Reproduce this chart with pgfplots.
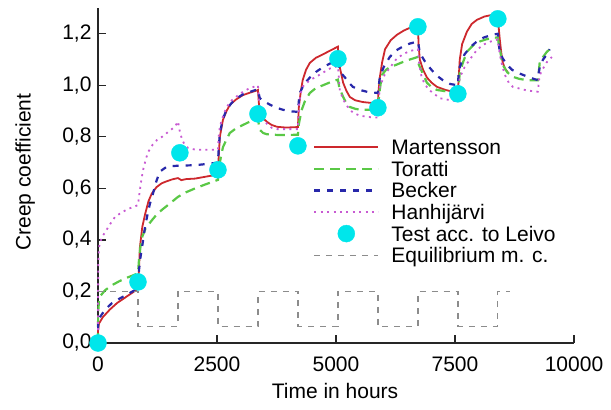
\documentclass[border=0pt]{standalone}
\usepackage{fontspec}
\setmainfont{Liberation Sans}
\usepackage{pgfplots}
\pgfplotsset{compat=1.18}

\definecolor{cmart}{RGB}{205,40,45}
\definecolor{ctor}{RGB}{90,200,70}
\definecolor{cbeck}{RGB}{40,40,170}
\definecolor{chanh}{RGB}{200,90,210}
\definecolor{ctest}{RGB}{0,230,235}
\definecolor{cequi}{RGB}{140,140,140}
\newcommand{\chartfont}{\fontsize{21bp}{25bp}\selectfont}

\begin{document}
\begin{tikzpicture}
\useasboundingbox (-98bp,-67bp) rectangle (513bp,343bp);
\begin{axis}[
  at={(0,0)}, anchor=south west,
  scale only axis, width=476bp, height=335bp,
  xmin=0, xmax=10000, ymin=0, ymax=1.3,
  axis x line=bottom, axis y line=left,
  axis line style={-, line width=1.3bp, black!85},
  tick align=inside, major tick length=8bp,
  tick style={line width=1.3bp, black!85},
  xtick={0,2500,5000,7500,10000},
  ytick={0,0.2,0.4,0.6,0.8,1.0,1.2},
  scaled x ticks=false,
  /pgf/number format/assume math mode=true,
  xticklabel style={font=\chartfont, yshift=-10bp, /pgf/number format/1000 sep={}},
  yticklabel style={font=\chartfont, xshift=-3bp, /pgf/number format/.cd, fixed, fixed zerofill, precision=1, use comma},
  xlabel={Time in hours}, ylabel={Creep coefficient},
  label style={font=\chartfont},
  xlabel style={at={(axis description cs:0.498,-0.143)}, anchor=center},
  ylabel style={at={(axis description cs:-0.153,0.51)}, anchor=center},
  clip=false,
  legend image code/.code={\draw[mark repeat=2,mark phase=2,#1] plot coordinates {(0bp,0bp) (32bp,0bp) (64bp,0bp)};},
  legend style={draw=none, fill=none, inner sep=0bp, font=\chartfont,
    at={(axis description cs:0.4517,0.6173)}, anchor=north west,
    nodes={inner sep=0bp, text height=18.3bp, text depth=3.3bp},
    row sep=0bp, column sep=12bp},
  legend cell align=left,
]
\addplot[cmart, line width=1.8bp] coordinates {
(0,0) (2,0.05) (20,0.075) (100,0.10) (250,0.13) (400,0.155) (600,0.18) (840,0.21)
(860,0.28) (880,0.37) (930,0.45) (990,0.50) (1060,0.55) (1130,0.58) (1230,0.605) (1340,0.62) (1450,0.628) (1560,0.635) (1680,0.64) (1750,0.632) (1850,0.636) (2040,0.638) (2250,0.645) (2460,0.652) (2520,0.655)
(2535,0.72) (2560,0.80) (2625,0.866) (2700,0.90) (2770,0.924) (2900,0.945) (3045,0.962) (3200,0.972) (3340,0.98) (3360,0.982)
(3380,0.93) (3400,0.897) (3470,0.872) (3550,0.858) (3650,0.846) (3760,0.839) (3950,0.836) (4200,0.838)
(4210,0.88) (4220,0.916) (4260,0.975) (4300,1.02) (4370,1.06) (4450,1.087) (4580,1.107) (4725,1.12) (4880,1.135) (5040,1.15)
(5050,1.12) (5080,1.07) (5150,1.01) (5220,0.978) (5290,0.955) (5400,0.942) (5565,0.935) (5720,0.932) (5880,0.93)
(5895,0.98) (5920,1.03) (5970,1.09) (6030,1.14) (6150,1.175) (6280,1.196) (6420,1.212) (6550,1.223) (6720,1.235)
(6735,1.16) (6760,1.10) (6830,1.06) (6910,1.03) (7010,1.01) (7120,0.994) (7300,0.982) (7460,0.975) (7560,0.97)
(7575,1.02) (7600,1.10) (7650,1.16) (7750,1.208) (7850,1.238) (7960,1.254) (8120,1.267) (8300,1.274) (8400,1.276)
(8415,1.23) (8440,1.18) (8470,1.13) (8500,1.09) (8550,1.065) (8610,1.05)
};
\addlegendentry{Martensson}
\addplot[ctor, line width=2.2bp, dash pattern=on 10bp off 6bp] coordinates {
(0,0) (3,0.12) (20,0.16) (60,0.185) (150,0.205) (300,0.225) (450,0.24) (630,0.255) (840,0.27)
(860,0.32) (890,0.37) (925,0.41) (1000,0.445) (1135,0.477) (1240,0.50) (1345,0.517) (1500,0.54) (1680,0.567) (1850,0.585) (2040,0.60) (2250,0.615) (2520,0.633)
(2540,0.68) (2580,0.72) (2625,0.76) (2700,0.79) (2770,0.815) (2900,0.833) (3045,0.846) (3200,0.86) (3360,0.873)
(3380,0.845) (3400,0.827) (3470,0.815) (3550,0.81) (3800,0.807) (4200,0.808)
(4220,0.85) (4280,0.905) (4350,0.94) (4450,0.97) (4580,0.99) (4725,1.0) (4880,1.012) (5040,1.022)
(5070,0.99) (5150,0.955) (5220,0.93) (5290,0.916) (5420,0.908) (5565,0.905) (5880,0.905)
(5910,0.97) (5965,1.04) (6050,1.06) (6130,1.07) (6270,1.08) (6400,1.09) (6550,1.10) (6720,1.11)
(6740,1.08) (6800,1.055) (6910,1.01) (7010,0.993) (7120,0.982) (7300,0.977) (7560,0.975)
(7580,1.0) (7600,1.05) (7670,1.09) (7750,1.13) (7880,1.155) (8020,1.17) (8150,1.178) (8300,1.184) (8400,1.186)
(8420,1.16) (8440,1.145) (8470,1.11) (8500,1.08) (8600,1.05) (8715,1.033) (8850,1.025) (9010,1.02) (9240,1.02)
(9260,1.05) (9280,1.09) (9350,1.11) (9430,1.13) (9555,1.15)
};
\addlegendentry{Toratti}
\addplot[cbeck, line width=2.2bp, dash pattern=on 6bp off 7bp] coordinates {
(0,0) (3,0.07) (40,0.10) (150,0.13) (295,0.155) (450,0.172) (630,0.19) (820,0.21) (840,0.215)
(860,0.28) (890,0.33) (925,0.37) (980,0.44) (1030,0.49) (1090,0.54) (1155,0.58) (1230,0.63) (1300,0.665) (1450,0.685) (1680,0.688) (2040,0.69) (2300,0.695) (2520,0.70)
(2535,0.75) (2560,0.815) (2625,0.87) (2700,0.905) (2800,0.93) (2900,0.948) (3045,0.965) (3200,0.975) (3360,0.985)
(3380,0.965) (3400,0.95) (3500,0.937) (3610,0.925) (3750,0.913) (3885,0.905) (4050,0.899) (4200,0.897)
(4220,0.94) (4240,0.97) (4330,1.005) (4450,1.03) (4580,1.052) (4725,1.07) (4880,1.085) (5040,1.095)
(5070,1.07) (5120,1.045) (5190,1.03) (5270,1.01) (5355,0.994) (5500,0.982) (5650,0.975) (5880,0.97)
(5900,1.0) (5920,1.03) (6000,1.07) (6130,1.11) (6260,1.135) (6400,1.15) (6550,1.162) (6720,1.17)
(6740,1.15) (6760,1.126) (6860,1.095) (6970,1.068) (7100,1.04) (7245,1.02) (7400,1.005) (7560,1.0)
(7575,1.04) (7600,1.07) (7700,1.12) (7830,1.15) (7960,1.17) (8100,1.185) (8270,1.196) (8400,1.20)
(8420,1.16) (8440,1.13) (8500,1.105) (8590,1.08) (8700,1.06) (8800,1.05) (9070,1.03) (9240,1.02)
(9260,1.05) (9280,1.07) (9350,1.10) (9430,1.12) (9490,1.14)
};
\addlegendentry{Becker}
\addplot[chanh, line width=1.8bp, dash pattern=on 2bp off 4.4bp] coordinates {
(0,0) (2,0.2) (5,0.3) (15,0.35) (30,0.38) (80,0.41) (150,0.43) (250,0.46) (360,0.49) (500,0.507) (630,0.52) (840,0.535)
(870,0.58) (900,0.62) (945,0.67) (1000,0.71) (1050,0.74) (1150,0.77) (1250,0.79) (1345,0.80) (1480,0.82) (1620,0.84) (1680,0.86)
(1720,0.82) (1765,0.79) (1820,0.77) (1890,0.757) (2050,0.75) (2520,0.75)
(2535,0.80) (2560,0.84) (2625,0.88) (2700,0.915) (2800,0.94) (2900,0.955) (3045,0.975) (3200,0.99) (3340,0.998) (3360,1.0)
(3380,0.95) (3400,0.90) (3470,0.87) (3550,0.85) (3650,0.835) (3760,0.83) (4200,0.83)
(4220,0.92) (4260,0.97) (4300,0.995) (4450,1.02) (4600,1.035) (4870,1.065) (5040,1.075)
(5060,1.03) (5080,0.98) (5150,0.945) (5230,0.92) (5350,0.895) (5500,0.882) (5775,0.875) (5880,0.875)
(5900,0.94) (5920,0.994) (6020,1.04) (6130,1.068) (6260,1.10) (6400,1.12) (6550,1.133) (6720,1.14)
(6750,1.08) (6800,1.03) (6880,1.0) (6970,0.98) (7180,0.95) (7460,0.94) (7560,0.938)
(7580,0.99) (7600,1.03) (7700,1.07) (7810,1.10) (7950,1.135) (8085,1.157) (8250,1.17) (8400,1.178)
(8420,1.15) (8440,1.12) (8500,1.07) (8550,1.04) (8630,1.01) (8715,0.994) (9010,0.98) (9240,0.975)
(9260,1.01) (9280,1.04) (9350,1.065) (9430,1.09) (9535,1.11)
};
\addlegendentry{Hanhijärvi}
\addplot[only marks, mark=*, mark size=8.5bp, mark options={fill=ctest, draw=ctest}] coordinates {
(0,0) (840,0.237) (1720,0.738) (2520,0.672) (3360,0.889) (4200,0.765) (5040,1.103) (5880,0.913) (6720,1.227) (7560,0.967) (8400,1.258)
};
\addlegendentry{Test acc. to Leivo}
\addplot[cequi, line width=1.3bp, dash pattern=on 6bp off 6bp, const plot] coordinates {
(0,0.2) (840,0.065) (1680,0.2) (2520,0.065) (3360,0.2) (4200,0.065) (5040,0.2) (5880,0.065) (6720,0.2) (7560,0.065) (8400,0.2) (8650,0.2)
};
\addlegendentry{Equilibrium m. c.}
\end{axis}
\end{tikzpicture}
\end{document}
